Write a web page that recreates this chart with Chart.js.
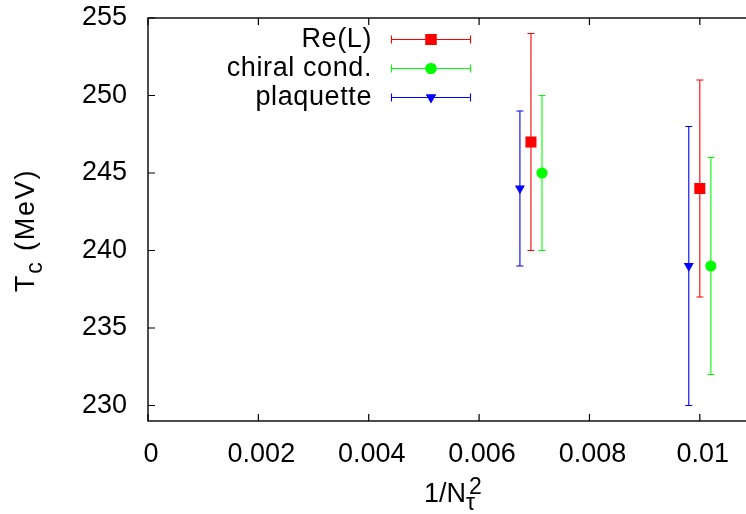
<!DOCTYPE html>
<html>
<head>
<meta charset="utf-8">
<script src="https://cdn.jsdelivr.net/npm/chart.js@4"></script>
<style>
  html, body { margin:0; padding:0; background:#fff; overflow:hidden; }
  #wrap { width:746px; height:514px; overflow:hidden; }
  canvas { display:block; }
</style>
</head>
<body>
<div id="wrap"><canvas id="tc" width="770" height="514"></canvas></div>
<script>
// data: x = 1/Ntau^2, y = Tc in MeV, symmetric errors
const seriesNames = ['Re(L)', 'chiral cond.', 'plaquette'];
const reL_x = [0.00694, 0.0100];
const reL_y = [247, 244];
const reL_err = [7, 7];
const chiral_x = [0.00714, 0.0102];
const chiral_y = [245, 239];
const chiral_err = [5, 7];
const plaq_x = [0.00674, 0.0098];
const plaq_y = [244, 239];
const plaq_err = [5, 9];

const xTicks = [0, 0.002, 0.004, 0.006, 0.008, 0.01];
const xTickLabels = ['0', '0.002', '0.004', '0.006', '0.008', '0.01'];
const yTicks = [230, 235, 240, 245, 250, 255];
const xRange = [0, 0.011];
const yRange = [229, 255];

const FONT = 'Liberation Sans, Arial, sans-serif';
const FS = 27;

function pts(xs, ys, es){ return xs.map((x,i)=>({x, y:ys[i], err:es[i]})); }

const datasets = [
  { label: seriesNames[0], data: pts(reL_x, reL_y, reL_err), color:'#ff0000',
    pointStyle:'rect', pointRadius:7.8, pointRotation:0 },
  { label: seriesNames[1], data: pts(chiral_x, chiral_y, chiral_err), color:'#00ff00',
    pointStyle:'circle', pointRadius:5.6, pointRotation:0 },
  { label: seriesNames[2], data: pts(plaq_x, plaq_y, plaq_err), color:'#0000ff',
    pointStyle:'triangle', pointRadius:5.8, pointRotation:180 }
].map(d => Object.assign(d, {
  backgroundColor: d.color, borderColor: d.color, pointBorderWidth: 0,
  pointHoverRadius: d.pointRadius, showLine: false
}));

// error bars under the markers
const errorBars = {
  id: 'errorBars',
  beforeDatasetsDraw(chart){
    const ctx = chart.ctx, xs = chart.scales.x, ys = chart.scales.y;
    ctx.save();
    ctx.lineWidth = 1.1;
    chart.data.datasets.forEach(ds => {
      ctx.strokeStyle = ds.color;
      ds.data.forEach(p => {
        const px = xs.getPixelForValue(p.x);
        const top = ys.getPixelForValue(p.y + p.err);
        const bot = ys.getPixelForValue(p.y - p.err);
        ctx.beginPath();
        ctx.moveTo(px, top); ctx.lineTo(px, bot);
        ctx.moveTo(px - 3.5, top); ctx.lineTo(px + 3.5, top);
        ctx.moveTo(px - 3.5, bot); ctx.lineTo(px + 3.5, bot);
        ctx.stroke();
      });
    });
    ctx.restore();
  }
};

// frame, inward mirrored ticks, legend and axis titles
const decor = {
  id: 'decor',
  afterDraw(chart){
    const ctx = chart.ctx, a = chart.chartArea;
    const xs = chart.scales.x, ys = chart.scales.y;
    ctx.save();
    ctx.strokeStyle = '#000';
    ctx.lineWidth = 1.4;
    ctx.strokeRect(a.left, a.top, a.right - a.left, a.bottom - a.top);
    ctx.lineWidth = 1.2;
    ctx.beginPath();
    xTicks.forEach(v => {
      const px = xs.getPixelForValue(v);
      ctx.moveTo(px, a.bottom); ctx.lineTo(px, a.bottom - 7);
      ctx.moveTo(px, a.top); ctx.lineTo(px, a.top + 7);
    });
    yTicks.forEach(v => {
      const py = ys.getPixelForValue(v);
      ctx.moveTo(a.left, py); ctx.lineTo(a.left + 7, py);
      ctx.moveTo(a.right, py); ctx.lineTo(a.right - 7, py);
    });
    ctx.stroke();

    // legend
    ctx.fillStyle = '#000';
    ctx.font = FS + 'px ' + FONT;
    ctx.letterSpacing = '0.6px';
    ctx.textAlign = 'right';
    ctx.textBaseline = 'middle';
    const lx = a.left + 224, s0 = a.left + 243, s1 = a.left + 323;
    chart.data.datasets.forEach((ds, i) => {
      const ly = a.top + 21 + i * 29;
      ctx.fillStyle = '#000';
      ctx.fillText(ds.label, lx, ly + 1);
      ctx.strokeStyle = ds.color;
      ctx.lineWidth = 1.1;
      const yy = Math.round(ly) + 0.5;
      ctx.beginPath();
      ctx.moveTo(s0, yy); ctx.lineTo(s1, yy);
      ctx.moveTo(s0 + 0.5, yy - 4); ctx.lineTo(s0 + 0.5, yy + 4);
      ctx.moveTo(s1 - 0.5, yy - 4); ctx.lineTo(s1 - 0.5, yy + 4);
      ctx.stroke();
      ctx.fillStyle = ds.color;
      Chart.helpers.drawPoint(ctx, {pointStyle: ds.pointStyle, rotation: ds.pointRotation,
        radius: ds.pointRadius, borderWidth: 0}, (s0 + s1) / 2, yy);
      ctx.fill();
    });
    ctx.letterSpacing = '0px';

    // x title: 1/N_tau^2
    ctx.fillStyle = '#000';
    ctx.textAlign = 'left';
    ctx.textBaseline = 'alphabetic';
    const big = FS + 'px ' + FONT, small = Math.round(FS * 0.85) + 'px ' + FONT;
    ctx.font = big;
    const wMain = ctx.measureText('1/N').width;
    ctx.font = small;
    const wSub = ctx.measureText('\u03c4').width;
    const wSup = ctx.measureText('2').width;
    const total = wMain + Math.max(wSub, wSup);
    const cx = (a.left + a.right) / 2 - total / 2;
    const by = 502;
    ctx.font = big; ctx.fillText('1/N', cx, by);
    ctx.font = small; ctx.fillText('\u03c4', cx + wMain, by + 8);
    ctx.fillText('2', cx + wMain + 3, by - 8);

    // y title: T_c (MeV), rotated
    ctx.save();
    ctx.translate(34, 292);
    ctx.rotate(-Math.PI / 2);
    ctx.letterSpacing = '1.8px';
    ctx.font = big; ctx.fillText('T', 0, 0);
    const wT = ctx.measureText('T').width;
    ctx.font = small; ctx.fillText('c', wT, 8);
    const wc = ctx.measureText('c').width;
    ctx.font = big; ctx.fillText(' (MeV)', wT + wc, 0);
    ctx.restore();
    ctx.restore();
  }
};

// let the plot box sit where the picture has it, not where label overflow pushes it
function noOverflow(s){ s.paddingTop = 0; s.paddingBottom = 0; s.paddingLeft = 0; s.paddingRight = 0; }

new Chart(document.getElementById('tc'), {
  type: 'scatter',
  data: { datasets },
  options: {
    responsive: false,
    animation: false,
    devicePixelRatio: 1,
    layout: { padding: { left: 0, top: 18, right: 15, bottom: 0 } },
    plugins: { legend: { display: false }, tooltip: { enabled: false } },
    scales: {
      x: {
        type: 'linear', min: xRange[0], max: xRange[1],
        afterBuildTicks: s => { s.ticks = xTicks.map(v => ({ value: v })); },
        afterFit: s => { s.height = 93; noOverflow(s); },
        grid: { display: false, drawTicks: false },
        border: { display: false },
        ticks: { color: '#000', font: { family: FONT, size: FS }, padding: 17,
                 maxRotation: 0, autoSkip: false, labelOffset: 3,
                 callback: (v, i) => xTickLabels[i] }
      },
      y: {
        type: 'linear', min: yRange[0], max: yRange[1],
        afterBuildTicks: s => { s.ticks = yTicks.map(v => ({ value: v })); },
        afterFit: s => { s.width = 148; noOverflow(s); },
        grid: { display: false, drawTicks: false },
        border: { display: false },
        ticks: { color: '#000', font: { family: FONT, size: FS }, padding: 21,
                 autoSkip: false, callback: v => String(v) }
      }
    }
  },
  plugins: [errorBars, decor]
});
</script>
</body>
</html>
